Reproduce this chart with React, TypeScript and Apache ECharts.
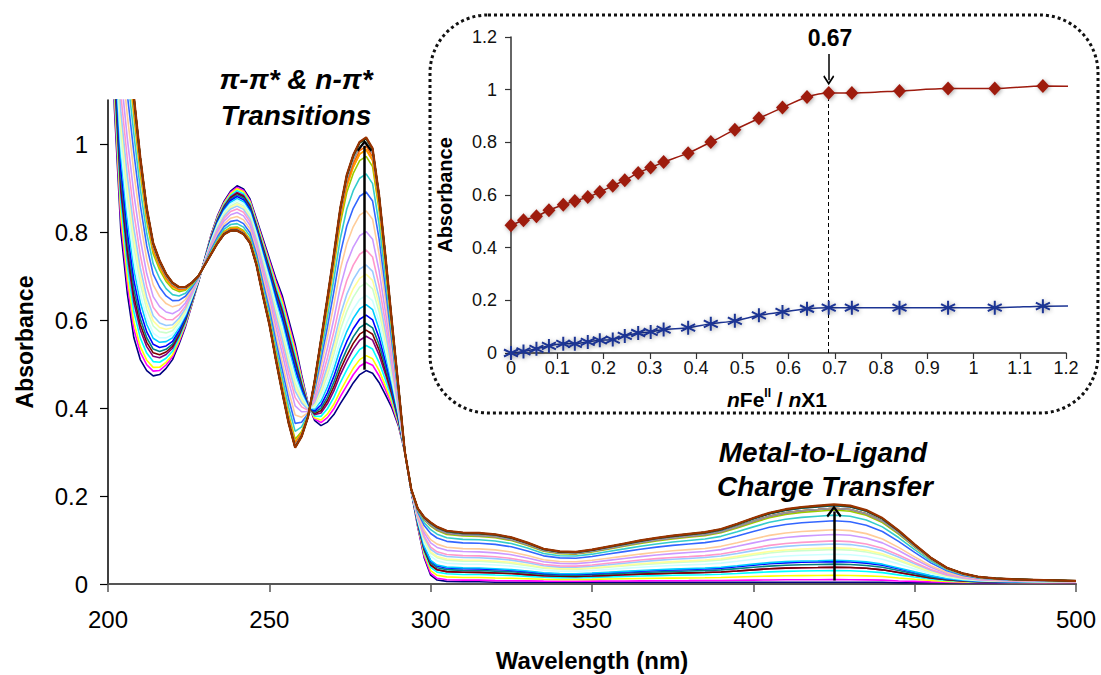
import React, { useEffect, useRef } from "react";
import * as echarts from "echarts";

// ---------- Main panel: UV-vis titration spectra ----------
const WAVELENGTHS = [
  200, 202, 204, 206, 208, 210, 212, 214, 216, 218, 220, 222, 224, 226, 228, 230, 232, 234, 236, 238,
  240, 242, 244, 246, 248, 250, 252, 254, 256, 258, 260, 262, 264, 266, 268, 270, 272, 274, 276, 278,
  280, 282, 284, 286, 288, 290, 292, 294, 296, 298, 300, 302, 305, 310, 315, 320, 325, 330, 335, 340,
  345, 350, 355, 360, 365, 370, 375, 380, 385, 390, 395, 400, 405, 410, 415, 420, 425, 430, 435, 440,
  445, 450, 455, 460, 465, 470, 475, 480, 490, 500,
];

// first spectrum (free ligand, navy curve)
const ABS_FIRST = [
  1.6, 1.08, 0.8, 0.66, 0.56, 0.51, 0.485, 0.473, 0.476, 0.49, 0.51, 0.545, 0.585, 0.635, 0.685, 0.74, 0.795, 0.838, 0.87, 0.893,
  0.905, 0.898, 0.875, 0.83, 0.785, 0.74, 0.695, 0.655, 0.6, 0.545, 0.475, 0.41, 0.372, 0.36, 0.368, 0.385, 0.41, 0.433, 0.457, 0.476,
  0.485, 0.479, 0.458, 0.43, 0.4, 0.36, 0.3, 0.21, 0.13, 0.06, 0.02, 0.009, 0.006, 0.005, 0.005, 0.004, 0.004, 0.004, 0.004, 0.004,
  0.004, 0.004, 0.004, 0.004, 0.004, 0.004, 0.004, 0.004, 0.004, 0.004, 0.004, 0.004, 0.004, 0.004, 0.004, 0.004, 0.004, 0.004, 0.004, 0.004,
  0.003, 0.003, 0.003, 0.003, 0.003, 0.003, 0.003, 0.003, 0.003, 0.003,
];

// last spectrum (saturated complex, brown curve)
const ABS_LAST = [
  1.8, 1.6, 1.4, 1.25, 1.11, 0.97, 0.855, 0.775, 0.735, 0.705, 0.685, 0.675, 0.675, 0.685, 0.7, 0.725, 0.75, 0.775, 0.795, 0.803,
  0.803, 0.795, 0.775, 0.725, 0.655, 0.59, 0.51, 0.435, 0.365, 0.31, 0.335, 0.38, 0.46, 0.555, 0.65, 0.75, 0.855, 0.93, 0.975, 1.005,
  1.015, 0.99, 0.885, 0.745, 0.595, 0.45, 0.3, 0.215, 0.172, 0.152, 0.14, 0.13, 0.121, 0.117, 0.116, 0.113, 0.106, 0.094, 0.08, 0.074,
  0.073, 0.078, 0.085, 0.092, 0.099, 0.105, 0.11, 0.114, 0.118, 0.125, 0.137, 0.15, 0.162, 0.17, 0.175, 0.178, 0.181, 0.178, 0.168, 0.15,
  0.122, 0.09, 0.06, 0.037, 0.024, 0.016, 0.013, 0.011, 0.009, 0.007,
];

// ---------- Inset: titration curve ----------
const RATIO = [
  0, 0.027, 0.055, 0.082, 0.113, 0.138, 0.166, 0.192, 0.22, 0.246, 0.275, 0.302, 0.33, 0.383, 0.432,
  0.484, 0.536, 0.587, 0.64, 0.687, 0.737, 0.84, 0.945, 1.046, 1.15, 1.25, 1.35, 1.45, 1.55,
];
const ABS_280 = [
  0.485, 0.504, 0.519, 0.542, 0.563, 0.577, 0.592, 0.611, 0.635, 0.656, 0.684, 0.704, 0.725, 0.759, 0.801,
  0.848, 0.891, 0.932, 0.972, 0.987, 0.987, 0.995, 1.004, 1.004, 1.014, 1.012, 1.013, 1.014, 1.015,
];
const ABS_425 = [
  0, 0.006, 0.016, 0.027, 0.035, 0.035, 0.042, 0.048, 0.051, 0.065, 0.076, 0.08, 0.089, 0.096, 0.111,
  0.122, 0.143, 0.156, 0.168, 0.172, 0.172, 0.172, 0.172, 0.172, 0.178, 0.179, 0.18, 0.18, 0.181,
];

const SPECTRUM_COLORS = [
  "#000080", "#FF00FF", "#FFFF00", "#00FFFF", "#800080", "#800000", "#008080", "#0000FF", "#00CCFF", "#CCFFFF",
  "#CCFFCC", "#FFFF99", "#99CCFF", "#FF99CC", "#CC99FF", "#FFCC99", "#3366FF", "#33CCCC", "#99CC00", "#FFCC00",
  "#FF9900", "#FF6600", "#666699", "#969696", "#003366", "#339966", "#003300", "#333300", "#993300",
];

const MAIN_Y_TICKS = [0, 0.2, 0.4, 0.6, 0.8, 1];
const ARROW_UV = { x: 279.5, from: 0.487, to: 0.996 };
const ARROW_MLCT = { x: 425, from: 0.008, to: 0.165 };
const EQUIV_X = 0.687;
const EQUIV_Y = 0.987;
const EQUIV_ARROW = { from: 1.135, to: 1.036 };

const FONT = '"Liberation Sans", Arial, Helvetica, sans-serif';
const RED = "#9E1B0E";
const BLUE = "#1C3494";
const CHEVRON = "path://M0,0 L9,10 L7.2,11.8 L0,3.8 L-7.2,11.8 L-9,10 Z";
const ASTERISK = "path://M6,0 L6,12 M0.8,3 L11.2,9 M0.8,9 L11.2,3";

export default function App() {
  const ref = useRef<HTMLDivElement>(null);

  useEffect(() => {
    if (!ref.current) return;
    const chart = echarts.init(ref.current, undefined, { renderer: "svg" });

    const n = RATIO.length;
    const uvSpan = ABS_280[n - 1] - ABS_280[0];
    const visSpan = ABS_425[n - 1] - ABS_425[0];

    const spectraSeries: any[] = RATIO.map((_, i) => {
      const fu = (ABS_280[i] - ABS_280[0]) / uvSpan;
      const fv = (ABS_425[i] - ABS_425[0]) / visSpan;
      const data = WAVELENGTHS.map((w, k) => {
        const f = w < 294 ? fu : fv;
        return [w, +(ABS_FIRST[k] + f * (ABS_LAST[k] - ABS_FIRST[k])).toFixed(4)];
      });
      const s: any = {
        type: "line",
        xAxisIndex: 0,
        yAxisIndex: 0,
        data,
        symbol: "none",
        silent: true,
        clip: true,
        lineStyle: { color: SPECTRUM_COLORS[i % SPECTRUM_COLORS.length], width: i === n - 1 ? 2.2 : 1.6 },
        z: 2,
      };
      if (i === n - 1) {
        s.markLine = {
          silent: true,
          symbol: ["none", CHEVRON],
          symbolSize: [15, 12],
          label: { show: false },
          lineStyle: { color: "#000", width: 2.5, type: "solid" },
          data: [
            [{ coord: [ARROW_UV.x, ARROW_UV.from] }, { coord: [ARROW_UV.x, ARROW_UV.to] }],
            [{ coord: [ARROW_MLCT.x, ARROW_MLCT.from] }, { coord: [ARROW_MLCT.x, ARROW_MLCT.to] }],
          ],
        };
      }
      return s;
    });

    const markerShadow = {
      shadowBlur: 4,
      shadowColor: "rgba(0,0,0,0.35)",
      shadowOffsetX: 1,
      shadowOffsetY: 1,
    };

    const insetRed: any = {
      type: "line",
      xAxisIndex: 1,
      yAxisIndex: 1,
      data: RATIO.map((r, i) => [r, ABS_280[i]]),
      symbol: "diamond",
      symbolSize: [13, 14],
      smooth: 0.25,
      clip: true,
      silent: true,
      lineStyle: { color: RED, width: 1.5 },
      itemStyle: { color: RED, ...markerShadow },
      z: 5,
      markLine: {
        silent: true,
        symbol: ["none", "none"],
        label: { show: false },
        data: [
          [
            { coord: [EQUIV_X, 0] },
            { coord: [EQUIV_X, EQUIV_Y], lineStyle: { type: [4, 3], width: 1, color: "#000" } },
          ],
          [
            { coord: [EQUIV_X, EQUIV_ARROW.from] },
            {
              coord: [EQUIV_X, EQUIV_ARROW.to],
              symbol: CHEVRON,
              symbolSize: [11, 10],
              lineStyle: { type: "solid", width: 1.5, color: "#000" },
            },
          ],
        ],
      },
    };

    const insetBlue: any = {
      type: "line",
      xAxisIndex: 1,
      yAxisIndex: 1,
      data: RATIO.map((r, i) => [r, ABS_425[i]]),
      symbol: ASTERISK,
      symbolSize: 14,
      smooth: 0.25,
      clip: true,
      silent: true,
      lineStyle: { color: BLUE, width: 1.5 },
      itemStyle: { color: BLUE, borderColor: BLUE, borderWidth: 2, ...markerShadow },
      z: 5,
    };

    const option: any = {
      animation: false,
      backgroundColor: "#fff",
      textStyle: { fontFamily: FONT },
      grid: [
        { left: 108, right: 25, top: 100, bottom: 91, outerBoundsMode: "none" },
        { left: 511, right: 35, top: 37, bottom: 322, outerBoundsMode: "none" },
      ],
      xAxis: [
        {
          type: "value",
          gridIndex: 0,
          min: 200,
          max: 500,
          interval: 50,
          splitLine: { show: false },
          axisLine: { show: true, lineStyle: { color: "#555", width: 2 } },
          axisTick: { show: true, length: 8, lineStyle: { color: "#555", width: 1.5 } },
          axisLabel: { fontSize: 24, color: "#000", margin: 23, fontFamily: FONT },
          name: "Wavelength (nm)",
          nameLocation: "middle",
          nameGap: 64,
          nameTextStyle: { fontSize: 24, fontWeight: "bold", color: "#000", fontFamily: FONT },
        },
        {
          type: "value",
          gridIndex: 1,
          min: 0,
          max: 1.2,
          interval: 0.1,
          splitLine: { show: false },
          axisLine: { show: true, lineStyle: { color: "#333", width: 1.5 } },
          axisTick: { show: true, length: 6, lineStyle: { color: "#333", width: 1.2 } },
          axisLabel: { fontSize: 18, color: "#111", margin: 6, fontFamily: FONT },
        },
      ],
      yAxis: [
        {
          type: "value",
          gridIndex: 0,
          min: 0,
          max: 1.1,
          interval: 0.2,
          splitLine: { show: false },
          axisLine: { show: true, lineStyle: { color: "#000", width: 1.5 } },
          axisTick: { show: true, length: 8, lineStyle: { color: "#000", width: 1.2 }, customValues: MAIN_Y_TICKS },
          axisLabel: { fontSize: 24, color: "#000", margin: 20, fontFamily: FONT, customValues: MAIN_Y_TICKS },
          name: "Absorbance",
          nameLocation: "middle",
          nameGap: 72,
          nameRotate: 90,
          nameTextStyle: { fontSize: 23, fontWeight: "bold", color: "#000", fontFamily: FONT },
        },
        {
          type: "value",
          gridIndex: 1,
          min: 0,
          max: 1.2,
          interval: 0.2,
          splitLine: { show: false },
          axisLine: { show: true, lineStyle: { color: "#333", width: 1.5 } },
          axisTick: { show: true, length: 6, lineStyle: { color: "#333", width: 1.2 } },
          axisLabel: { fontSize: 18, color: "#111", margin: 14, fontFamily: FONT },
          name: "Absorbance",
          nameLocation: "middle",
          nameGap: 56,
          nameRotate: 90,
          nameTextStyle: { fontSize: 20, fontWeight: "bold", color: "#000", fontFamily: FONT },
        },
      ],
      graphic: [
        {
          type: "rect",
          shape: { x: 430, y: 15, width: 668, height: 398, r: 58 },
          style: { fill: "none", stroke: "#111", lineWidth: 3, lineDash: [3, 3] },
          silent: true,
          z: 0,
        },
        {
          type: "text",
          x: 296,
          y: 79,
          style: {
            text: "π-π* & n-π*",
            fill: "#000",
            fontSize: 28,
            fontWeight: "bold",
            fontStyle: "italic",
            fontFamily: FONT,
            align: "center",
            verticalAlign: "middle",
          },
        },
        {
          type: "text",
          x: 296,
          y: 115,
          style: {
            text: "Transitions",
            fill: "#000",
            fontSize: 28,
            fontWeight: "bold",
            fontStyle: "italic",
            fontFamily: FONT,
            align: "center",
            verticalAlign: "middle",
          },
        },
        {
          type: "text",
          x: 823,
          y: 452,
          style: {
            text: "Metal-to-Ligand",
            fill: "#000",
            fontSize: 28,
            fontWeight: "bold",
            fontStyle: "italic",
            fontFamily: FONT,
            align: "center",
            verticalAlign: "middle",
          },
        },
        {
          type: "text",
          x: 825,
          y: 486,
          style: {
            text: "Charge Transfer",
            fill: "#000",
            fontSize: 28,
            fontWeight: "bold",
            fontStyle: "italic",
            fontFamily: FONT,
            align: "center",
            verticalAlign: "middle",
          },
        },
        {
          type: "text",
          x: 830,
          y: 38,
          style: {
            text: "0.67",
            fill: "#000",
            fontSize: 23,
            fontWeight: "bold",
            fontFamily: FONT,
            align: "center",
            verticalAlign: "middle",
          },
        },
        {
          type: "text",
          x: 777,
          y: 399,
          style: {
            text: "{i|n}{b|Fe}{s|II}{b| / }{i|n}{b|X1}",
            align: "center",
            verticalAlign: "middle",
            fill: "#000",
            rich: {
              i: { fontSize: 21, fontWeight: "bold", fontStyle: "italic", fontFamily: FONT, fill: "#000", lineHeight: 24 },
              b: { fontSize: 21, fontWeight: "bold", fontFamily: FONT, fill: "#000", lineHeight: 24 },
              s: { fontSize: 12, fontWeight: "bold", fontFamily: FONT, fill: "#000", verticalAlign: "top", lineHeight: 14 },
            },
          },
        },
      ],
      series: [...spectraSeries, insetRed, insetBlue],
    };

    chart.setOption(option);
    return () => chart.dispose();
  }, []);

  return (
    <div
      ref={ref}
      style={{ position: "fixed", left: 0, top: 0, width: 1101, height: 675, background: "#fff" }}
    />
  );
}
